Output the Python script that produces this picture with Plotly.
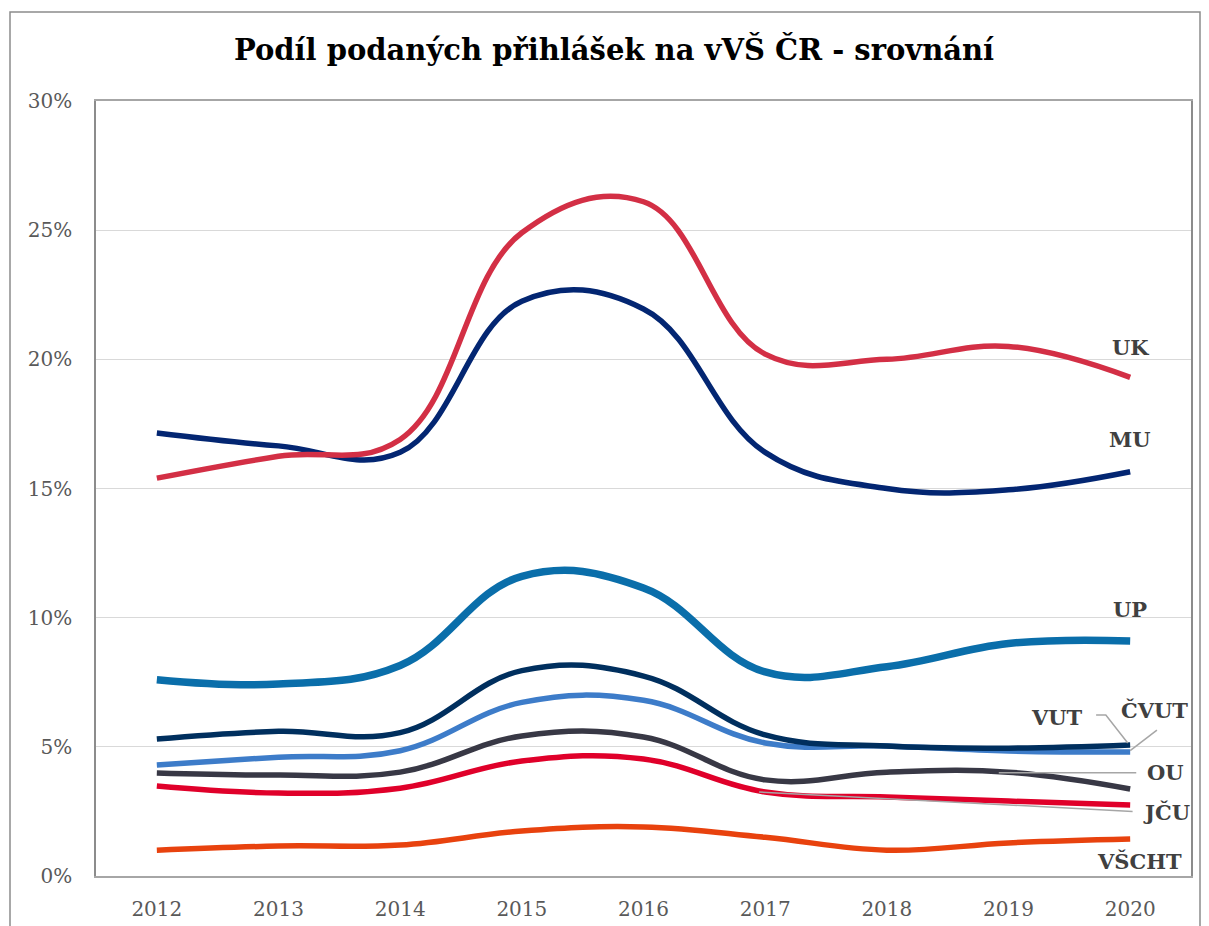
import plotly.graph_objects as go

years = ["2012", "2013", "2014", "2015", "2016", "2017", "2018", "2019", "2020"]
uk = [15.4, 16.25, 16.9, 24.9, 26.1, 20.2, 20.0, 20.5, 19.3]
mu = [17.15, 16.65, 16.4, 22.25, 21.95, 16.4, 15.0, 14.95, 15.65]
up = [7.6, 7.43, 8.15, 11.6, 11.15, 7.9, 8.1, 9.0, 9.1]
vut = [5.3, 5.6, 5.55, 7.95, 7.74, 5.46, 5.03, 4.95, 5.07]
cvut = [4.3, 4.6, 4.85, 6.72, 6.8, 5.15, 5.03, 4.84, 4.8]
ou = [3.99, 3.91, 4.02, 5.42, 5.38, 3.72, 4.02, 4.02, 3.37]
jcu = [3.48, 3.21, 3.4, 4.45, 4.53, 3.25, 3.06, 2.9, 2.75]
vscht = [1.0, 1.16, 1.2, 1.74, 1.9, 1.5, 1.0, 1.28, 1.43]
yticks = [0, 5, 10, 15, 20, 25, 30]
ytext = ["0%", "5%", "10%", "15%", "20%", "25%", "30%"]

series = [
    ("VŠCHT", vscht, "#E8420E", 5.5),
    ("JČU", jcu, "#E0002A", 5.5),
    ("OU", ou, "#383845", 5.5),
    ("ČVUT", cvut, "#3D7CC9", 5.5),
    ("VUT", vut, "#002F5E", 5.5),
    ("UP", up, "#0A6EAA", 7.5),
    ("MU", mu, "#032672", 5.5),
    ("UK", uk, "#D32F45", 5.5),
]

fig = go.Figure()
for name, vals, col, w in series:
    fig.add_trace(go.Scatter(x=years, y=vals, mode="lines", name=name,
                             line=dict(color=col, width=w, shape="spline", smoothing=1.15)))

FONT = "Georgia, 'DejaVu Serif', serif"
lab = dict(size=21, color="#404040", family=FONT)

def label(text, x, y):
    fig.add_annotation(x=x, y=y, xref="x", yref="y", text="<b>%s</b>" % text,
                       showarrow=False, font=lab, xanchor="center", yanchor="middle")

label("UK", 8, 20.45)
label("MU", 8, 16.9)
label("UP", 8, 10.3)
label("VUT", 8 - 0.6, 6.15)
label("ČVUT", 8 + 0.2, 6.4)
label("OU", 8 + 0.29, 4.0)
label("JČU", 8 + 0.3, 2.45)
label("VŠCHT", 8 + 0.08, 0.55)

# leader lines
lead = dict(color="#A6A6A6", width=1.5)
fig.add_shape(type="path", xref="x", yref="y",
              path="M 7.72 6.23 L 7.8 6.23 L 7.98 5.15", line=lead)
fig.add_shape(type="line", xref="x", yref="y", x0=8.22, y0=5.65, x1=8.0, y1=4.85, line=lead)
fig.add_shape(type="line", xref="x", yref="y", x0=6.92, y0=4.0, x1=8.05, y1=4.0, line=lead)
fig.add_shape(type="line", xref="x", yref="y", x0=4.95, y0=3.25, x1=8.02, y1=2.5, line=lead)

# page offset of 8px (body margin); figure pixel coordinates
W, H = 1201, 918
L, R, T, B = 88, 18, 93, 50
PW, PH = W - L - R, H - T - B

def px(page_x):
    return (page_x - 8 - L) / PW

def py(page_y):
    return 1 - (page_y - 8 - T) / PH

fig.add_shape(type="rect", xref="paper", yref="paper",
              x0=px(10), x1=px(1200), y0=py(940), y1=py(12),
              line=dict(color="#8C8C8C", width=1.5), fillcolor="rgba(0,0,0,0)", layer="below")

fig.update_layout(
    width=W, height=H,
    margin=dict(l=L, r=R, t=T, b=B, autoexpand=False),
    paper_bgcolor="white", plot_bgcolor="white",
    showlegend=False,
    title=dict(text="<b>Podíl podaných přihlášek na vVŠ ČR - srovnání</b>",
               x=(614 - 8) / W, xanchor="center", y=1 - (50 - 8) / H, yanchor="middle",
               font=dict(size=29, color="black", family=FONT)),
    font=dict(family=FONT),
)
fig.update_xaxes(type="category", range=[-0.5, 8.5], showgrid=False,
                 tickfont=dict(size=20, color="#595959", family=FONT),
                 showline=True, linecolor="#A6A6A6", linewidth=1.5, mirror=True,
                 ticks="outside", ticklen=14, tickcolor="rgba(0,0,0,0)")
fig.update_yaxes(range=[0, 30], tickvals=yticks, ticktext=ytext,
                 tickfont=dict(size=20, color="#595959", family=FONT),
                 showgrid=True, gridcolor="#D9D9D9", gridwidth=1.2,
                 showline=True, linecolor="#8C8C8C", linewidth=1.5, mirror=True,
                 zeroline=False, ticks="outside", ticklen=18, tickcolor="rgba(0,0,0,0)")

fig.write_html("out.html")
